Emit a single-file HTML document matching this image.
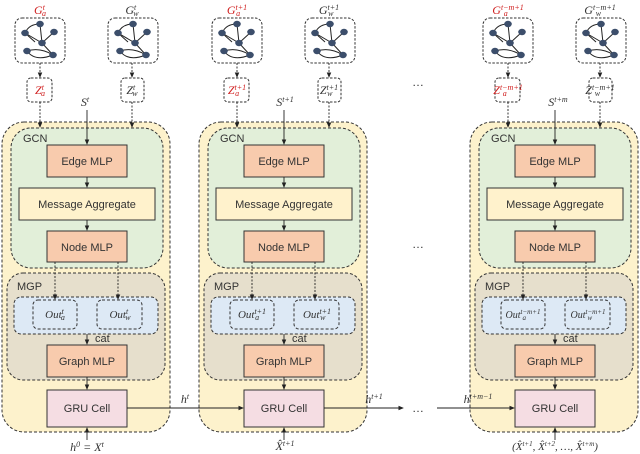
<!DOCTYPE html>
<html><head><meta charset="utf-8"><style>
html,body{margin:0;padding:0;background:#fff}
svg{display:block}
text{font-family:"Liberation Sans",sans-serif;fill:#333}
.m text{font-family:"Liberation Serif",serif;font-style:italic}
</style></head><body>
<svg width="640" height="454" viewBox="0 0 640 454" xmlns="http://www.w3.org/2000/svg">
<defs>
<marker id="ar" markerWidth="6" markerHeight="6" refX="5" refY="3" orient="auto"><path d="M0,0.5 L6,3 L0,5.5z" fill="#222"/></marker>
<g id="graph">
<rect x="0" y="0" width="50" height="45" rx="7" fill="#fff" stroke="#333" stroke-dasharray="2.5,1.5"/>
<g stroke="#222" stroke-width="1" fill="none">
<path d="M25,6 Q14,6 10,15"/><path d="M10,15 L27,25"/><path d="M27,25 L39,14"/><path d="M25,6 L27,25"/>
<path d="M27,25 L38,37"/><path d="M12,33 Q25,29 38,37"/><path d="M12,33 Q20,44 38,37"/><path d="M10,15 L20,24"/>
</g>
<g fill="#3c4e6b"><ellipse cx="25" cy="6" rx="3.8" ry="3.2"/><ellipse cx="10" cy="15" rx="3.8" ry="3.2"/><ellipse cx="39" cy="14" rx="3.8" ry="3.2"/><ellipse cx="27" cy="25" rx="3.8" ry="3.2"/><ellipse cx="12" cy="33" rx="3.8" ry="3.2"/><ellipse cx="38" cy="37" rx="3.8" ry="3.2"/></g>
</g>
<g id="col">
<rect x="2" y="122" width="168" height="310" rx="22" fill="#fdf2cc" stroke="#333" stroke-dasharray="3,2"/>
<rect x="11" y="128" width="152" height="140" rx="20" fill="#e2efd9" stroke="#333" stroke-dasharray="3,2"/>
<rect x="47" y="145" width="80" height="32" fill="#f8cbad" stroke="#333"/>
<rect x="19" y="188" width="136" height="32" fill="#fff2cc" stroke="#333"/>
<rect x="47" y="231" width="80" height="31" fill="#f8cbad" stroke="#333"/>
<rect x="7" y="273" width="158" height="107" rx="16" fill="#e6dfcc" stroke="#333" stroke-dasharray="3,2"/>
<rect x="14" y="297" width="144" height="37" rx="7" fill="#dde9f5" stroke="#333" stroke-dasharray="3,2"/>
<rect x="33" y="300" width="44" height="29" rx="5" fill="#dde9f5" stroke="#333" stroke-dasharray="3,2"/>
<rect x="97" y="300" width="45" height="29" rx="5" fill="#dde9f5" stroke="#333" stroke-dasharray="3,2"/>
<rect x="47" y="345" width="80" height="32" fill="#f8cbad" stroke="#333"/>
<rect x="47" y="390" width="80" height="37" fill="#f5dde3" stroke="#333"/>
<use href="#graph" x="15" y="18"/><use href="#graph" x="108" y="18"/>
<rect x="27" y="78" width="25" height="24" rx="4" fill="#fff" stroke="#333" stroke-dasharray="2.5,1.5"/>
<rect x="121" y="78" width="23" height="24" rx="4" fill="#fff" stroke="#333" stroke-dasharray="2.5,1.5"/>
<g stroke="#222" stroke-width="0.9" fill="none" marker-end="url(#ar)">
<line x1="40" y1="63" x2="40" y2="77" stroke-dasharray="2,1.5"/>
<line x1="132" y1="63" x2="132" y2="77" stroke-dasharray="2,1.5"/>
<line x1="40" y1="102" x2="40" y2="127" stroke-dasharray="2,1.5"/>
<line x1="132" y1="102" x2="132" y2="127" stroke-dasharray="2,1.5"/>
<line x1="87" y1="110" x2="87" y2="144"/>
<line x1="87" y1="177" x2="87" y2="187"/>
<line x1="87" y1="220" x2="87" y2="230"/>
<line x1="55" y1="262" x2="55" y2="299" stroke-dasharray="2,1.5"/>
<line x1="118" y1="262" x2="118" y2="299" stroke-dasharray="2,1.5"/>
<line x1="87" y1="334" x2="87" y2="344"/>
<line x1="87" y1="377" x2="87" y2="389"/>
<line x1="87" y1="440" x2="87" y2="428"/>
</g>
<text x="23" y="142" font-size="11">GCN</text>
<text x="87" y="165" font-size="11" text-anchor="middle">Edge MLP</text>
<text x="87" y="208" font-size="11" text-anchor="middle">Message Aggregate</text>
<text x="87" y="251" font-size="11" text-anchor="middle">Node MLP</text>
<text x="17" y="290" font-size="11">MGP</text>
<text x="95" y="342" font-size="11">cat</text>
<text x="87" y="365" font-size="11" text-anchor="middle">Graph MLP</text>
<text x="87" y="412" font-size="11" text-anchor="middle">GRU Cell</text>
</g>
</defs>
<use href="#col"/><use href="#col" x="197"/><use href="#col" x="468"/>
<g stroke="#222" stroke-width="0.9" fill="none" marker-end="url(#ar)">
<line x1="127" y1="408" x2="243" y2="408"/>
<line x1="324" y1="408" x2="403" y2="408"/>
<line x1="437" y1="408" x2="514" y2="408"/>
</g>
<g font-size="12" text-anchor="middle">
<text x="418" y="86">…</text><text x="418" y="248">…</text><text x="418" y="412">…</text>
</g>
<g class="m" font-size="12" text-anchor="middle">
<text x="40" y="14" style="fill:#d02020">G<tspan font-size="8" dy="-4">t</tspan><tspan font-size="8" dx="-3" dy="6">a</tspan></text>
<text x="132" y="14">G<tspan font-size="8" dy="-4">t</tspan><tspan font-size="8" dx="-3" dy="6">w</tspan></text>
<text x="40" y="94" style="fill:#d02020">Z<tspan font-size="8" dy="-4">t</tspan><tspan font-size="8" dx="-3" dy="6">a</tspan></text>
<text x="132" y="94">Z<tspan font-size="8" dy="-4">t</tspan><tspan font-size="8" dx="-3" dy="6">w</tspan></text>
<text x="85" y="106">S<tspan font-size="8" dy="-4">t</tspan></text>
<text x="55" y="318" font-size="11">Out<tspan font-size="8" dy="-4">t</tspan><tspan font-size="8" dx="-3" dy="6">a</tspan></text>
<text x="120" y="318" font-size="11">Out<tspan font-size="8" dy="-4">t</tspan><tspan font-size="8" dx="-3" dy="6">w</tspan></text>
<text x="87" y="451">h<tspan font-size="8" dy="-4">0</tspan><tspan dy="4"> = X</tspan><tspan font-size="8" dy="-4">t</tspan></text>
<text x="185" y="403">h<tspan font-size="8" dy="-4">t</tspan></text>

<text x="237" y="14" style="fill:#d02020">G<tspan font-size="8" dy="-4">t+1</tspan><tspan font-size="8" dx="-11" dy="6">a</tspan></text>
<text x="329" y="14">G<tspan font-size="8" dy="-4">t+1</tspan><tspan font-size="8" dx="-11" dy="6">w</tspan></text>
<text x="237" y="94" style="fill:#d02020">Z<tspan font-size="8" dy="-4">t+1</tspan><tspan font-size="8" dx="-11" dy="6">a</tspan></text>
<text x="329" y="94">Z<tspan font-size="8" dy="-4">t+1</tspan><tspan font-size="8" dx="-11" dy="6">w</tspan></text>
<text x="285" y="106">S<tspan font-size="8" dy="-4">t+1</tspan></text>
<text x="252" y="318" font-size="11">Out<tspan font-size="8" dy="-4">t+1</tspan><tspan font-size="8" dx="-11" dy="6">a</tspan></text>
<text x="317" y="318" font-size="11">Out<tspan font-size="8" dy="-4">t+1</tspan><tspan font-size="8" dx="-11" dy="6">w</tspan></text>
<text x="285" y="450">X̂<tspan font-size="8" dy="-4">t+1</tspan></text>
<text x="374" y="403">h<tspan font-size="8" dy="-4">t+1</tspan></text>

<text x="508" y="14" style="fill:#d02020">G<tspan font-size="8" dy="-4">t−m+1</tspan><tspan font-size="8" dx="-20" dy="6">a</tspan></text>
<text x="600" y="14">G<tspan font-size="8" dy="-4">t−m+1</tspan><tspan font-size="8" dx="-20" dy="6">w</tspan></text>
<text x="508" y="94" style="fill:#d02020">Z<tspan font-size="8" dy="-4">t−m+1</tspan><tspan font-size="8" dx="-20" dy="6">a</tspan></text>
<text x="600" y="94">Z<tspan font-size="8" dy="-4">t−m+1</tspan><tspan font-size="8" dx="-20" dy="6">w</tspan></text>
<text x="558" y="106">S<tspan font-size="8" dy="-4">t+m</tspan></text>
<text x="523" y="318" font-size="10">Out<tspan font-size="7" dy="-4">t−m+1</tspan><tspan font-size="7" dx="-18" dy="6">a</tspan></text>
<text x="588" y="318" font-size="10">Out<tspan font-size="7" dy="-4">t−m+1</tspan><tspan font-size="7" dx="-18" dy="6">w</tspan></text>
<text x="555" y="450" font-size="11">(X̂<tspan font-size="7" dy="-4">t+1</tspan><tspan dy="4">, X̂</tspan><tspan font-size="7" dy="-4">t+2</tspan><tspan dy="4">, …, X̂</tspan><tspan font-size="7" dy="-4">t+m</tspan><tspan dy="4">)</tspan></text>
<text x="478" y="403">h<tspan font-size="8" dy="-4">t+m−1</tspan></text>
</g>
</svg>
</body></html>
